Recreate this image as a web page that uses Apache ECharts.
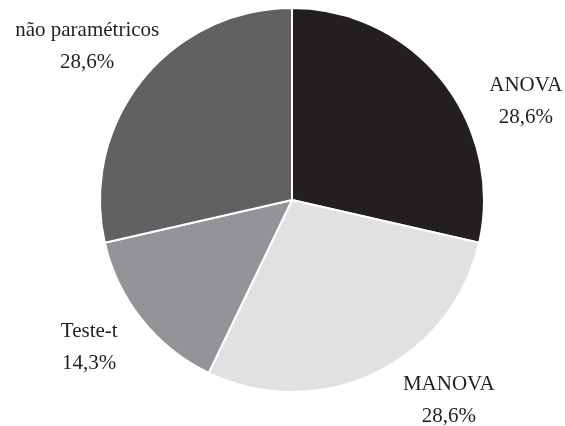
<!DOCTYPE html>
<html>
<head>
<meta charset="utf-8">
<script src="https://cdn.jsdelivr.net/npm/echarts@6/dist/echarts.min.js"></script>
<style>
  html, body { margin: 0; padding: 0; background: #fff; }
  #chart { width: 565px; height: 426px; }
</style>
</head>
<body>
<div id="chart"></div>
<script>
// slices, clockwise from 12 o'clock
const categories = ['ANOVA', 'MANOVA', 'Teste-t', 'não paramétricos']
const percents = [28.6, 28.6, 14.3, 28.6]
const colors = ['#231f20', '#e1e1e3', '#939497', '#616163']
// nudge of each label from its ring position
const labelNudge = [[36, 59], [47, -27], [-5, -10], [-7, 4]]

const fmt = v => v.toFixed(1).replace('.', ',')

const chart = echarts.init(document.getElementById('chart'))

chart.setOption({
  animation: false,
  series: [
    {
      type: 'pie',
      center: [292, 200],
      radius: [0, 192],
      startAngle: 90,
      clockwise: true,
      silent: true,
      label: { show: false },
      labelLine: { show: false },
      itemStyle: { borderColor: '#fff', borderWidth: 2 },
      data: categories.map((name, i) => ({
        name: name,
        value: percents[i],
        itemStyle: { color: colors[i] }
      }))
    },
    {
      // invisible ring, only used to place the labels
      type: 'pie',
      center: [292, 200],
      radius: [240, 260],
      startAngle: 90,
      clockwise: true,
      silent: true,
      itemStyle: { color: 'rgba(0,0,0,0)' },
      labelLine: { show: false },
      label: {
        show: true,
        position: 'inside',
        fontFamily: 'Liberation Serif',
        fontSize: 21,
        lineHeight: 32,
        color: '#231f20',
        align: 'center',
        formatter: p => p.name + '\n' + fmt(p.value) + '%'
      },
      labelLayout: p => ({
        dx: labelNudge[p.dataIndex][0],
        dy: labelNudge[p.dataIndex][1]
      }),
      data: categories.map((name, i) => ({ name: name, value: percents[i] }))
    }
  ]
})
</script>
</body>
</html>
